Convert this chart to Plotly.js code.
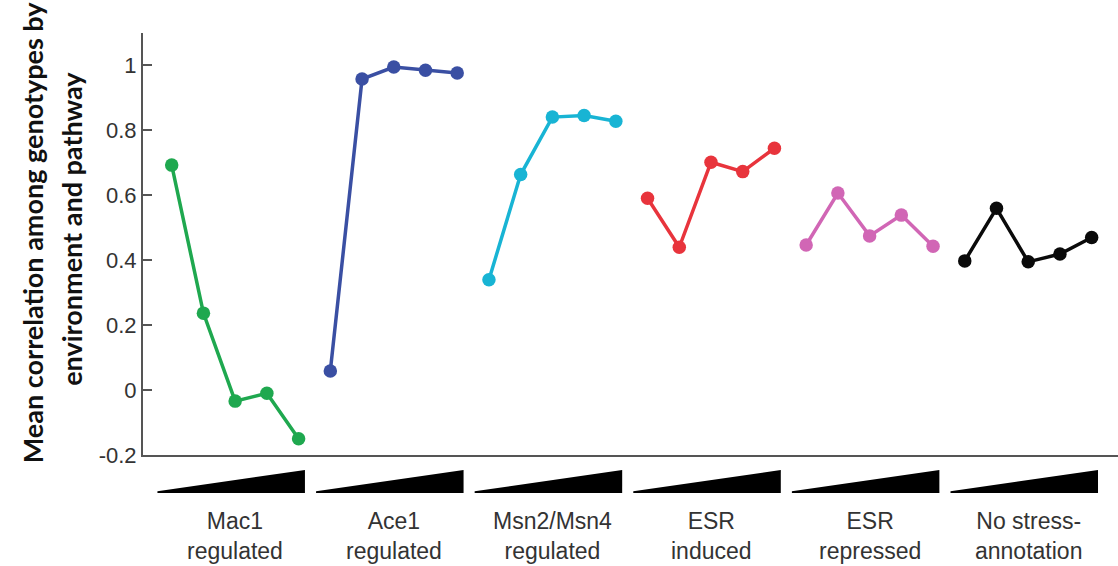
<!DOCTYPE html>
<html>
<head>
<meta charset="utf-8">
<script src="https://cdn.plot.ly/plotly-3.0.1.min.js"></script>
<style>html,body{margin:0;padding:0;background:#fff;}#chart{width:1118px;height:566px;}</style>
</head>
<body>
<div id="chart"></div>
<script>
// Data
const groupLabels = ["Mac1<br>regulated", "Ace1<br>regulated", "Msn2/Msn4<br>regulated", "ESR<br>induced", "ESR<br>repressed", "No stress-<br>annotation"];
const groupColors = ["#1fa84f", "#3a4fa3", "#18b4d4", "#e8343c", "#d166b5", "#0a0a0a"];
const mac1 = [0.693, 0.237, -0.034, -0.010, -0.150];
const ace1 = [0.059, 0.958, 0.995, 0.985, 0.977];
const msn24 = [0.340, 0.664, 0.841, 0.846, 0.828];
const esrInduced = [0.591, 0.440, 0.702, 0.673, 0.745];
const esrRepressed = [0.447, 0.607, 0.475, 0.539, 0.443];
const noStress = [0.398, 0.560, 0.395, 0.419, 0.470];
const yTickVals = [-0.2, 0, 0.2, 0.4, 0.6, 0.8, 1];
const yTickText = ["-0.2", "0", "0.2", "0.4", "0.6", "0.8", "1"];
const yTitleLines = ["Mean correlation among genotypes by", "environment and pathway"];

const series = [mac1, ace1, msn24, esrInduced, esrRepressed, noStress];
const perGroup = 5;

const traces = series.map((vals, g) => ({
  type: "scatter",
  mode: "lines+markers",
  x: vals.map((v, i) => g * perGroup + i),
  y: vals,
  line: {color: groupColors[g], width: 3.5},
  marker: {color: groupColors[g], size: 13.5},
  showlegend: false,
  hoverinfo: "x+y"
}));

// wedge shapes under the axis
const shapes = series.map((vals, g) => {
  const x0 = g * perGroup - 0.45, x1 = g * perGroup + 4.2;
  const yb = -0.090, yt = -0.0355, ytip = -0.086;
  return {
    type: "path", xref: "x", yref: "paper",
    path: `M ${x0},${yb} L ${x1},${yb} L ${x1},${yt} L ${x0},${ytip} Z`,
    fillcolor: "#000", line: {width: 0}
  };
});

const annotations = groupLabels.map((t, g) => ({
  xref: "x", yref: "paper", x: g * perGroup + 2, y: -0.191,
  xanchor: "center", yanchor: "middle", showarrow: false,
  text: t, font: {family: "Liberation Sans, Arial, sans-serif", size: 23, color: "#333"}
}));
const titlePos = [{x: -0.1138, y: 0.528}, {x: -0.0728, y: 0.536}];
yTitleLines.forEach((t, i) => annotations.push({
  xref: "paper", yref: "paper", x: titlePos[i].x, y: titlePos[i].y,
  xanchor: "center", yanchor: "middle", showarrow: false, textangle: -90,
  text: "<b>" + t + "</b>",
  font: {family: "Lato, sans-serif", size: 27, color: "#111"}
}));

const layout = {
  width: 1118, height: 566,
  margin: {l: 143, r: 0, t: 33, b: 111, pad: 0},
  paper_bgcolor: "#fff", plot_bgcolor: "#fff",
  xaxis: {
    range: [-0.905, 29.83], showgrid: false, zeroline: false,
    showline: true, linecolor: "#555", linewidth: 2,
    showticklabels: false, ticks: ""
  },
  yaxis: {
    range: [-0.2, 1.1], showgrid: false, zeroline: false,
    showline: true, linecolor: "#555", linewidth: 2,
    ticks: "inside", ticklen: 9, tickwidth: 2, tickcolor: "#555",
    tickvals: yTickVals, ticktext: yTickText,
    tickfont: {family: "Liberation Sans, Arial, sans-serif", size: 22, color: "#333"}
  },
  shapes: shapes,
  annotations: annotations
};

Plotly.newPlot("chart", traces, layout, {displayModeBar: false, staticPlot: true});
</script>
</body>
</html>
